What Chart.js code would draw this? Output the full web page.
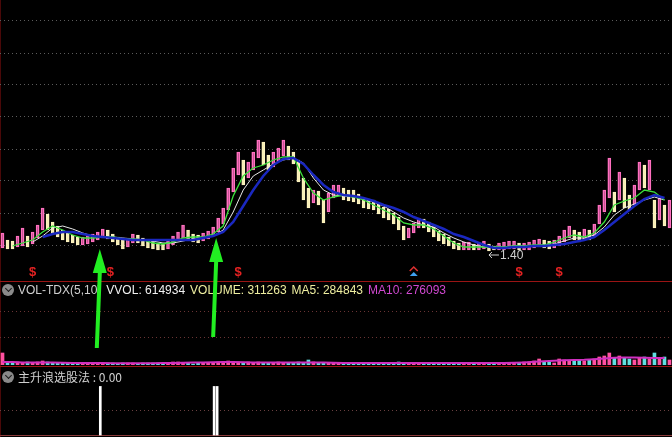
<!DOCTYPE html>
<html><head><meta charset="utf-8">
<script src="https://cdn.jsdelivr.net/npm/chart.js@4"></script>
<style>
html,body{margin:0;padding:0;background:#000;width:672px;height:437px;overflow:hidden}
#wrap{position:relative;width:672px;height:437px;background:#000}
canvas{position:absolute;left:0}
.hdr{position:absolute;left:18px;font:12px "Liberation Sans",Arial,sans-serif;white-space:nowrap;line-height:14px}
.hdr span{margin-right:5px}
.cn{font-family:"Noto Sans CJK SC","Liberation Sans",sans-serif}
.ico{position:absolute;left:2px;width:12px;height:12px;border-radius:50%;background:#8a8a8a}
.ico:after{content:"";position:absolute;left:3.5px;top:2px;width:4px;height:4px;border-right:1.5px solid #1a1a1a;border-bottom:1.5px solid #1a1a1a;transform:rotate(45deg)}
.ln{position:absolute;background:#9a1414}
</style></head>
<body><div id="wrap">
<div class="ln" style="left:0;top:0;width:1px;height:437px;background:#4a0808"></div>
<div class="ln" style="left:0;top:281px;width:672px;height:1px"></div>
<div class="ln" style="left:0;top:366px;width:672px;height:1px"></div>
<div class="ln" style="left:0;top:435px;width:672px;height:1px;background:#8a3a3a"></div>
<canvas id="cInd" style="top:367px" width="672" height="69"></canvas>
<canvas id="cVol" style="top:282px" width="672" height="83"></canvas>
<div class="ico" style="top:284px"></div>
<div class="hdr" id="volHdr" style="top:283px"></div>
<div class="ico" style="top:371px"></div>
<div class="hdr cn" id="indHdr" style="top:370px;color:#d0d0d0"></div>
<canvas id="cPrice" style="top:0" width="672" height="437"></canvas>
</div>
<script>
// ---- price candles (one per sample), high/low ----
const priceHigh = [1.58,1.51,1.50,1.55,1.63,1.55,1.59,1.66,1.83,1.77, 1.69,1.65,1.61,1.58,1.56,1.54,1.54,1.55,1.57,1.59,
 1.62,1.61,1.57,1.54,1.51,1.53,1.57,1.56,1.53,1.51, 1.50,1.48,1.47,1.50,1.55,1.59,1.66,1.61,1.57,1.56,
 1.58,1.60,1.64,1.73,1.83,2.03,2.23,2.39,2.31,2.29, 2.39,2.51,2.49,2.36,2.39,2.43,2.51,2.45,2.39,2.31,
 2.13,2.03,2.01,2.00,1.91,1.98,2.06,2.06,2.03,2.01, 2.01,1.97,1.93,1.92,1.91,1.87,1.84,1.82,1.78,1.74,
 1.65,1.63,1.68,1.73,1.72,1.69,1.64,1.60,1.57,1.54, 1.50,1.48,1.49,1.49,1.47,1.48,1.50,1.47,1.45,1.48,
 1.49,1.50,1.50,1.48,1.48,1.49,1.51,1.52,1.51,1.50, 1.51,1.55,1.61,1.65,1.61,1.59,1.62,1.61,1.67,1.86,
 2.01,2.33,1.99,2.19,2.13,1.96,2.06,2.29,2.26,2.31, 1.91,1.93,1.86,1.91];
const priceLow = [1.43,1.42,1.42,1.44,1.45,1.44,1.47,1.53,1.61,1.61, 1.57,1.54,1.51,1.49,1.48,1.46,1.46,1.47,1.49,1.51,
 1.53,1.52,1.49,1.46,1.42,1.44,1.48,1.48,1.45,1.43, 1.42,1.41,1.41,1.42,1.46,1.50,1.53,1.51,1.49,1.48,
 1.50,1.52,1.55,1.59,1.67,1.81,1.99,2.16,2.06,2.13, 2.21,2.33,2.26,2.21,2.24,2.29,2.35,2.31,2.27,2.09,
 1.91,1.83,1.88,1.86,1.68,1.79,1.93,1.95,1.91,1.90, 1.89,1.87,1.83,1.82,1.81,1.77,1.73,1.71,1.67,1.61,
 1.51,1.53,1.58,1.63,1.63,1.59,1.54,1.50,1.47,1.45, 1.42,1.41,1.41,1.41,1.41,1.41,1.42,1.40,1.41,1.41,
 1.41,1.42,1.42,1.41,1.41,1.41,1.43,1.44,1.43,1.42, 1.43,1.45,1.49,1.53,1.51,1.49,1.52,1.51,1.55,1.67,
 1.79,1.93,1.79,1.91,1.83,1.81,1.86,2.01,2.03,2.01, 1.63,1.71,1.65,1.63];
// ---- moving averages, one value every 2 samples ----
const maWhite = [null,null,null,1.49,1.55,1.63,1.65,1.62,1.58,1.55, 1.54,1.54,1.53,1.52,1.51,1.50,1.48,1.48,1.50,1.52,
 1.53,1.55,1.61,1.79,2.01,2.15,2.21,2.27,2.31,2.33, 2.28,2.13,2.01,1.96,1.95,1.94,1.92,1.89,1.85,1.79,
 1.73,1.69,1.66,1.64,1.58,1.53,1.49,1.46,1.44,1.44, 1.44,1.45,1.45,1.45,1.46,1.47,1.50,1.53,1.53,1.56,
 1.64,1.76,1.83,1.87,1.91,1.94,1.91];
const maGreen = [null,1.45,1.48,1.51,1.59,1.65,1.61,1.56,1.53,1.53, 1.54,1.54,1.52,1.52,1.51,1.48,1.47,1.49,1.53,1.54,
 1.54,1.57,1.65,1.95,2.15,2.23,2.26,2.31,2.34,2.34, 2.13,1.98,1.91,1.94,1.96,1.94,1.91,1.86,1.81,1.76,
 1.68,1.66,1.66,1.62,1.55,1.48,1.44,1.44,1.44,1.44, 1.44,1.45,1.45,1.46,1.46,1.49,1.53,1.56,1.54,1.58,
 1.69,1.86,1.90,1.93,2.01,1.99,1.91];
const maBlue = [null,null,null,null,1.54,1.57,1.59,1.59,1.57,1.55, 1.54,1.53,1.52,1.51,1.51,1.51,1.51,1.51,1.51,1.51,
 1.53,1.55,1.59,1.69,1.85,2.01,2.15,2.26,2.32,2.33, 2.27,2.16,2.06,1.99,1.96,1.95,1.93,1.90,1.86,1.83,
 1.79,1.74,1.70,1.66,1.62,1.57,1.54,1.50,1.46,1.43, 1.43,1.44,1.44,1.45,1.45,1.46,1.47,1.49,1.51,1.54,
 1.61,1.69,1.77,1.85,1.92,1.96,1.93];
const priceGrid = [3.70,3.38,3.06,2.74,2.42,2.10,1.78,1.46];
// ---- volume ----
const volume = [480000,120000,80000,120000,80000,120000,80000,120000,160000,120000,
 80000,80000,80000,80000,40000,80000,80000,40000,80000,80000,
 80000,80000,80000,40000,80000,80000,80000,40000,80000,80000,
 80000,80000,40000,80000,120000,120000,80000,80000,40000,80000,
 80000,80000,80000,120000,120000,160000,120000,120000,80000,120000,
 80000,120000,80000,80000,80000,120000,80000,80000,80000,120000,
 80000,200000,120000,80000,80000,80000,80000,80000,80000,80000,
 80000,80000,80000,80000,80000,80000,80000,80000,80000,120000,
 80000,80000,80000,80000,40000,80000,80000,80000,80000,80000,
 80000,80000,80000,80000,40000,80000,80000,80000,80000,80000,
 80000,80000,80000,80000,120000,120000,160000,240000,120000,120000,
 80000,240000,200000,160000,160000,200000,160000,200000,240000,320000,
 360000,480000,280000,360000,280000,240000,200000,280000,320000,240000,
 480000,240000,320000,200000];
const volMa10 = [120000,120000,100000,100000,100000, 100000,88000,80000,80000,80000,
 80000,72000,72000,72000,72000,72000,80000,80000,88000,96000,
 100000,112000,120000,120000,112000,104000,100000,100000,100000,100000,
 104000,104000,96000,88000,84000,80000,80000,80000,80000,80000,
 80000,80000,76000,76000,76000,76000,76000,76000,76000,76000,
 80000,88000,104000,128000,152000,168000,192000,200000,208000,232000,
 264000,288000,304000,296000,288000,280000,280000];
const volGrid = [1080000,2160000];
const volHeader = [['VOL-TDX(5,10)','#cfcfcf'],['VVOL: 614934','#f0f0f0'],['VOLUME: 311263','#eeeea0'],['MA5: 284843','#eeeea0'],['MA10: 276093','#d048d0']];
// ---- indicator 主升浪选股法 ----
const signalDays = [19.5, 42.2, 42.8];
const signalVals = [1, 1, 1];
const indHeader = '主升浪选股法 : 0.00';
// ---- annotations ----
const sMarkDays = [6, 21.5, 47, 103, 111];
const triMarkDays = [82];
const arrowDays = [19.4, 42.6];
const arrowTipPrice = [1.42, 1.53];

Chart.defaults.animation = false;
Chart.defaults.font.family = '"Liberation Sans", Arial, sans-serif';
const N = priceHigh.length;
const rising = priceHigh.map((h,i)=> i===0 ? true : (h+priceLow[i]) >= (priceHigh[i-1]+priceLow[i-1]));
const every2 = arr => arr.map((v,k)=>({x:2*k, y:v}));
const xScale = {type:'linear', min:-0.5, max:N-0.5, display:false, offset:false};

document.getElementById('volHdr').innerHTML = volHeader.map(([t,c])=>`<span style="color:${c}">${t}</span>`).join('');
document.getElementById('indHdr').textContent = indHeader;

const overlay = {
  id:'overlay',
  afterDraw(chart){
    const {ctx, chartArea, scales:{x,y}} = chart;
    ctx.save();
    ctx.font = 'bold 13px "Liberation Sans", Arial';
    ctx.fillStyle = '#e42222'; ctx.textAlign='center'; ctx.textBaseline='middle';
    sMarkDays.forEach(d => ctx.fillText('$', x.getPixelForValue(d), chartArea.bottom - 8));
    triMarkDays.forEach(d => {
      const px = x.getPixelForValue(d), py = chartArea.bottom - 8;
      ctx.strokeStyle = '#e03030'; ctx.lineWidth = 1.5;
      ctx.beginPath(); ctx.moveTo(px-4, py-1); ctx.lineTo(px, py-5); ctx.lineTo(px+4, py-1); ctx.stroke();
      ctx.fillStyle = '#40a0f0';
      ctx.beginPath(); ctx.moveTo(px-4, py+4); ctx.lineTo(px, py); ctx.lineTo(px+4, py+4); ctx.closePath(); ctx.fill();
    });
    // min label
    let mi = 0; priceLow.forEach((v,i)=>{ if (v < priceLow[mi]) mi = i; });
    const mx = x.getPixelForValue(mi), my = y.getPixelForValue(priceLow[mi]) + 4;
    ctx.strokeStyle = '#d0d0d0'; ctx.fillStyle = '#d0d0d0'; ctx.lineWidth = 1;
    ctx.beginPath(); ctx.moveTo(mx, my); ctx.lineTo(mx+10, my); ctx.moveTo(mx, my); ctx.lineTo(mx+3, my-3); ctx.moveTo(mx, my); ctx.lineTo(mx+3, my+3); ctx.stroke();
    ctx.font = '12px "Liberation Sans", Arial'; ctx.textAlign='left';
    ctx.fillText(priceLow[mi].toFixed(2), mx+11, my+1);
    // green arrows
    ctx.fillStyle = '#22ee22';
    arrowDays.forEach((d,i) => {
      const px = x.getPixelForValue(d), py = y.getPixelForValue(arrowTipPrice[i]);
      ctx.beginPath();
      ctx.moveTo(px, py); ctx.lineTo(px+7, py+24); ctx.lineTo(px+2, py+24);
      ctx.lineTo(px-1, py+99); ctx.lineTo(px-5, py+99); ctx.lineTo(px-2, py+24);
      ctx.lineTo(px-7, py+24); ctx.closePath(); ctx.fill();
    });
    ctx.restore();
  }
};

new Chart(document.getElementById('cPrice'), {
  data:{datasets:[
    {type:'line', data:every2(maBlue), borderColor:'#1a28c0', borderWidth:2.5, pointRadius:0, order:1},
    {type:'line', data:every2(maGreen), borderColor:'#3ce03c', borderWidth:1.3, pointRadius:0, order:2},
    {type:'line', data:every2(maWhite), borderColor:'#e8e8e8', borderWidth:1, pointRadius:0, order:3},
    {type:'bar', data:priceHigh.map((h,i)=>({x:i, y:[priceLow[i], h]})),
      backgroundColor: rising.map(r=> r ? 'rgba(255,110,190,0.35)' : '#f6eeb6'),
      borderColor: rising.map(r=> r ? '#ff70c0' : '#fff4c0'), borderWidth:1, borderSkipped:false,
      barThickness:3, order:4}
  ]},
  options:{responsive:false, layout:{padding:{left:0,right:0,top:0,bottom:157}},
    plugins:{legend:{display:false}, tooltip:{enabled:false}},
    scales:{x:xScale,
      y:{min:1.11, max:3.91, ticks:{display:false}, grid:{color:'#5c5c5c', drawTicks:false},
         border:{display:false, dash:[1,3]}, afterBuildTicks:a=>{a.ticks = priceGrid.map(v=>({value:v}));}}}},
  plugins:[overlay]
});

new Chart(document.getElementById('cVol'), {
  data:{datasets:[
    {type:'line', data:every2(volMa10), borderColor:'#d030c0', borderWidth:2, pointRadius:0, order:1},
    {type:'bar', data:volume.map((v,i)=>({x:i, y:v})), backgroundColor: rising.map(r=> r ? '#ff50a0' : '#60e0e0'), barThickness:3, order:2}
  ]},
  options:{responsive:false, plugins:{legend:{display:false}, tooltip:{enabled:false}},
    scales:{x:xScale,
      y:{min:0, max:3320000, ticks:{display:false}, grid:{color:'#6a3434', drawTicks:false},
         border:{display:false, dash:[1,3]}, afterBuildTicks:a=>{a.ticks = volGrid.map(v=>({value:v}));}}}}
});

new Chart(document.getElementById('cInd'), {
  type:'bar',
  data:{datasets:[{data:signalDays.map((d,i)=>({x:d, y:signalVals[i]})), backgroundColor:'#ffffff', barThickness:2}]},
  options:{responsive:false, plugins:{legend:{display:false}, tooltip:{enabled:false}},
    scales:{x:xScale,
      y:{min:-0.02, max:1.4, ticks:{display:false}, grid:{color:'#6a4040', drawTicks:false},
         border:{display:false, dash:[1,3]}, afterBuildTicks:a=>{a.ticks = [{value:0.5}];}}}}
});
</script>
</body></html>
